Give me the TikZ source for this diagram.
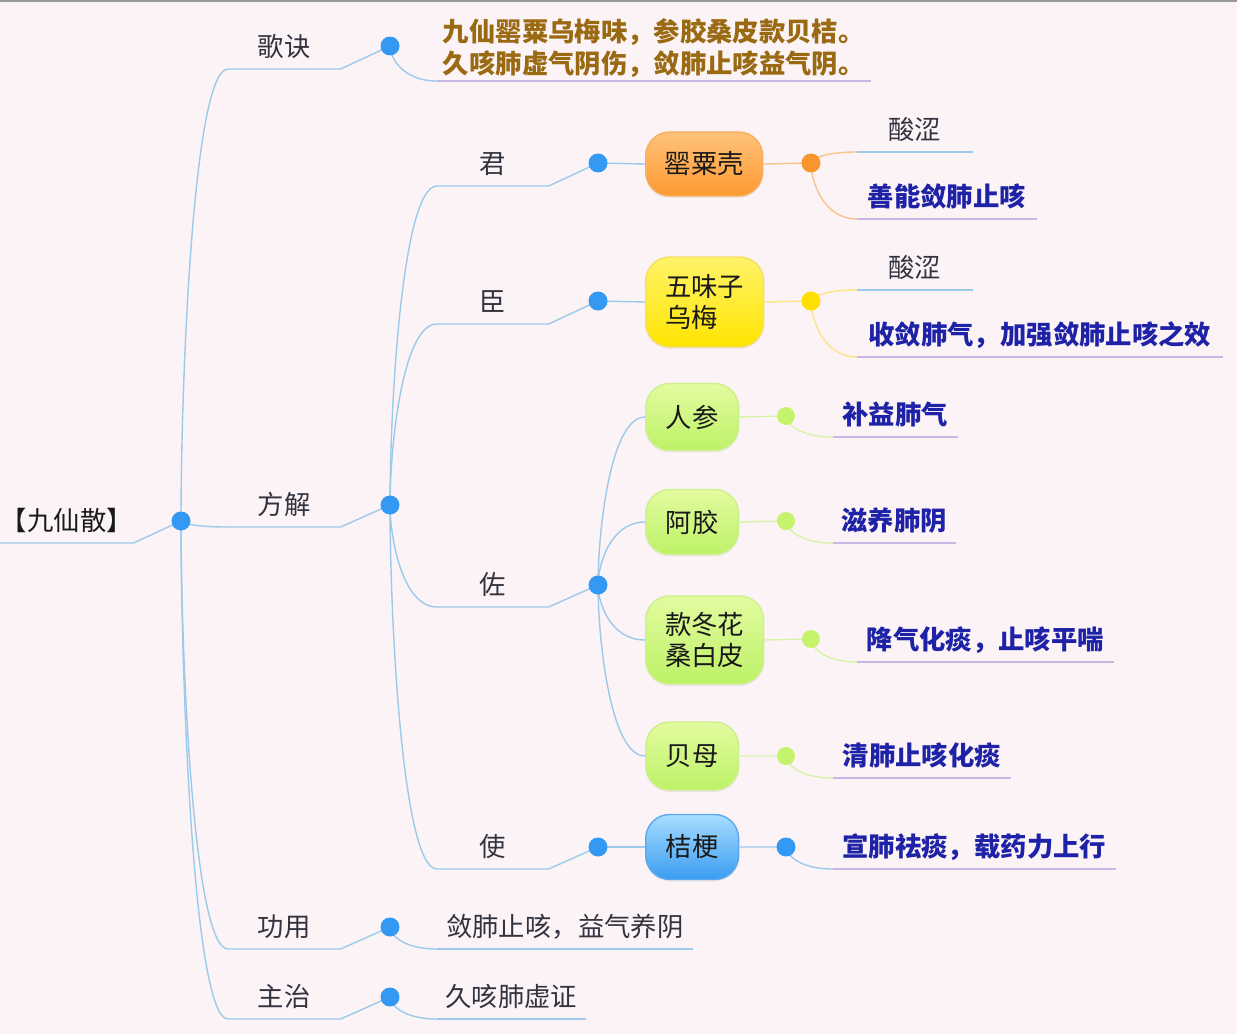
\documentclass[tikz,border=0pt]{standalone}
\usepackage{fontspec}
\setmainfont{Noto Sans CJK SC}
\usetikzlibrary{calc, shadows}

\definecolor{paper}{HTML}{FCF3F7}
\definecolor{stem}{HTML}{9CCAEA}
\definecolor{lilac}{HTML}{C9B6E4}
\definecolor{ink}{HTML}{33333F}
\definecolor{navy}{HTML}{1E22A6}
\definecolor{gold}{HTML}{9A6A12}
\definecolor{knotblue}{HTML}{3399F2}
\definecolor{knotorange}{HTML}{F7962E}
\definecolor{knotyellow}{HTML}{FFE000}
\definecolor{knotgreen}{HTML}{C5F36B}
\definecolor{orangetop}{HTML}{FFC27A}
\definecolor{orangebot}{HTML}{FF9A30}
\definecolor{orangerim}{HTML}{F6AE5E}
\definecolor{orangestem}{HTML}{F8C48A}
\definecolor{yellowtop}{HTML}{FFF36A}
\definecolor{yellowbot}{HTML}{FFE400}
\definecolor{yellowrim}{HTML}{F5DF63}
\definecolor{yellowstem}{HTML}{FBE585}
\definecolor{greentop}{HTML}{E2FBA0}
\definecolor{greenbot}{HTML}{BDF266}
\definecolor{greenrim}{HTML}{CDEF8C}
\definecolor{greenstem}{HTML}{D6F4A8}
\definecolor{bluetop}{HTML}{A8DCFF}
\definecolor{bluebot}{HTML}{3A9DF2}
\definecolor{bluerim}{HTML}{5AAAF0}

\tikzset{
  twig/.style={to path={let \p1=(\tikztostart), \p2=(\tikztotarget) in
    .. controls (\x1,{\y2+0.7*(\y1-\y2)}) and ({\x1+0.25*(\x2-\x1)},\y2) .. (\tikztotarget)}},
  stemline/.style={draw=stem, line width=0.8pt},
  underline/.style={draw=lilac, line width=1pt},
  topic/.style={anchor=south west, inner xsep=0pt, inner ysep=0.18cm,
    text height=13pt, text depth=2pt, text=ink},
  leaf/.style={topic, text=navy, font=\fontsize{15}{18}\selectfont\bfseries},
  herb/.style={anchor=west, rounded corners=0.48cm, line width=0.8pt,
    inner sep=0pt, align=left, text=black!90,
    drop shadow={opacity=0.12, shadow xshift=0pt, shadow yshift=-0.04cm}},
  orangebox/.style={herb, top color=orangetop, bottom color=orangebot, draw=orangerim},
  yellowbox/.style={herb, top color=yellowtop, bottom color=yellowbot, draw=yellowrim},
  greenbox/.style={herb, top color=greentop, bottom color=greenbot, draw=greenrim},
  bluebox/.style={herb, top color=bluetop, bottom color=bluebot, draw=bluerim}
}

\begin{document}
\begin{tikzpicture}[x=0.02cm, y=-0.02cm, font=\fontsize{15}{18}\selectfont]
\useasboundingbox (0,0) rectangle (1237,1034);
\fill[paper] (0,0) rectangle (1237,1034);
\draw[gray!80, line width=1.2pt] (0,1) -- (1237,1);

% knots
\coordinate (k0) at (181,521);
\coordinate (k1) at (390,46);
\coordinate (k2) at (390,505);
\coordinate (k3) at (390,927);
\coordinate (k4) at (390,997);
\coordinate (k5) at (598,163);
\coordinate (k6) at (598,301);
\coordinate (k7) at (598,585);
\coordinate (k8) at (598,847);
\coordinate (e1) at (811,163);
\coordinate (e2) at (811,301);
\coordinate (e3) at (786,416);
\coordinate (e4) at (786,521);
\coordinate (e5) at (811,639);
\coordinate (e6) at (786,756);
\coordinate (e7) at (786,847);

% topics
\node[topic, minimum width=2.66cm, text=black!90] (jxs) at (0,543) {【九仙散】};
\node[topic, minimum width=2.24cm] (gj) at (228,69) {歌诀};
\node[topic, minimum width=2.24cm] (fj) at (228,527) {方解};
\node[topic, minimum width=2.24cm] (gy) at (228,949) {功用};
\node[topic, minimum width=2.24cm] (zz) at (228,1019) {主治};
\node[topic, minimum width=2.22cm] (jun) at (437,186) {君};
\node[topic, minimum width=2.22cm] (chen) at (437,324) {臣};
\node[topic, minimum width=2.22cm] (zuo) at (437,607) {佐};
\node[topic, minimum width=2.22cm] (shi) at (437,869) {使};

% herbs
\node[orangebox, minimum width=2.34cm, minimum height=1.28cm] (ysk) at (645,164) {罂粟壳};
\node[yellowbox, minimum width=2.36cm, minimum height=1.8cm] (wwz) at (645,302) {五味子\\乌梅};
\node[greenbox, minimum width=1.86cm, minimum height=1.34cm] (rs) at (645,417) {人参};
\node[greenbox, minimum width=1.86cm, minimum height=1.3cm] (ej) at (645,522) {阿胶};
\node[greenbox, minimum width=2.36cm, minimum height=1.76cm] (kdh) at (645,640) {款冬花\\桑白皮};
\node[greenbox, minimum width=1.86cm, minimum height=1.36cm] (bm) at (645,756) {贝母};
\node[bluebox, minimum width=1.86cm, minimum height=1.3cm] (jg) at (645,847) {桔梗};

% leaves
\node[leaf, text=gold, align=left, inner ysep=0.08cm, minimum width=8.66cm] (gjl) at (437,81)
  {九仙罂粟乌梅味，参胶桑皮款贝桔。\\久咳肺虚气阴伤，敛肺止咳益气阴。};
\node[topic, minimum width=5.1cm] (gyl) at (437,949) {敛肺止咳，益气养阴};
\node[topic, minimum width=2.96cm] (zzl) at (437,1019) {久咳肺虚证};
\node[topic, minimum width=2.3cm] (sw1) at (857,152) {酸涩};
\node[leaf, minimum width=3.58cm] (sn) at (857,219) {善能敛肺止咳};
\node[topic, minimum width=2.3cm] (sw2) at (857,290) {酸涩};
\node[leaf, minimum width=7.3cm] (sl) at (857,357) {收敛肺气，加强敛肺止咳之效};
\node[leaf, minimum width=2.48cm] (by) at (833,437) {补益肺气};
\node[leaf, minimum width=2.44cm] (zy) at (833,543) {滋养肺阴};
\node[leaf, minimum width=5.12cm] (jq) at (857,662) {降气化痰，止咳平喘};
\node[leaf, minimum width=3.54cm] (qf) at (833,778) {清肺止咳化痰};
\node[leaf, minimum width=5.64cm] (xf) at (833,869) {宣肺祛痰，载药力上行};

% underlines of topics
\draw[stemline] (jxs.south west) -- (jxs.south east) -- (k0);
\foreach \t/\k in {gj/k1, fj/k2, gy/k3, zz/k4, jun/k5, chen/k6, zuo/k7, shi/k8}
  \draw[stemline] (\t.south west) -- (\t.south east) -- (\k);

% branches
\foreach \t in {gj, fj, gy, zz}
  \draw[stemline] (k0) to[twig] (\t.south west);
\foreach \t in {jun, chen, zuo, shi}
  \draw[stemline] (k2) to[twig] (\t.south west);
\draw[stemline] (k1) to[twig] (gjl.south west);
\draw[stemline] (k3) to[twig] (gyl.south west);
\draw[stemline] (k4) to[twig] (zzl.south west);
\draw[stemline] (k5) -- (ysk.west);
\draw[stemline] (k6) -- (wwz.west);
\foreach \b in {rs, ej, kdh, bm}
  \draw[stemline] (k7) to[twig] (\b.west);
\draw[stemline] (k8) -- (jg.west);

\draw[orangestem, line width=0.8pt] (ysk.east) -- (e1);
\draw[orangestem, line width=0.8pt] (e1) to[twig] (sw1.south west) (e1) to[twig] (sn.south west);
\draw[yellowstem, line width=0.8pt] (wwz.east) -- (e2);
\draw[yellowstem, line width=0.8pt] (e2) to[twig] (sw2.south west) (e2) to[twig] (sl.south west);
\draw[greenstem, line width=0.8pt] (rs.east) -- (e3) to[twig] (by.south west);
\draw[greenstem, line width=0.8pt] (ej.east) -- (e4) to[twig] (zy.south west);
\draw[greenstem, line width=0.8pt] (kdh.east) -- (e5) to[twig] (jq.south west);
\draw[greenstem, line width=0.8pt] (bm.east) -- (e6) to[twig] (qf.south west);
\draw[stemline] (jg.east) -- (e7) to[twig] (xf.south west);

% underlines of leaves
\draw[stemline] (sw1.south west) -- (sw1.south east);
\draw[stemline] (sw2.south west) -- (sw2.south east);
\draw[stemline] (gyl.south west) -- (gyl.south east);
\draw[stemline] (zzl.south west) -- (zzl.south east);
\foreach \l in {gjl, sn, sl, by, zy, jq, qf, xf}
  \draw[underline] (\l.south west) -- (\l.south east);

% dots
\foreach \k in {k0, k1, k2, k3, k4, k5, k6, k7, k8, e7}
  \fill[knotblue] (\k) circle (0.19cm);
\fill[knotorange] (e1) circle (0.19cm);
\fill[knotyellow] (e2) circle (0.19cm);
\foreach \k in {e3, e4, e5, e6}
  \fill[knotgreen] (\k) circle (0.18cm);
\end{tikzpicture}
\end{document}
